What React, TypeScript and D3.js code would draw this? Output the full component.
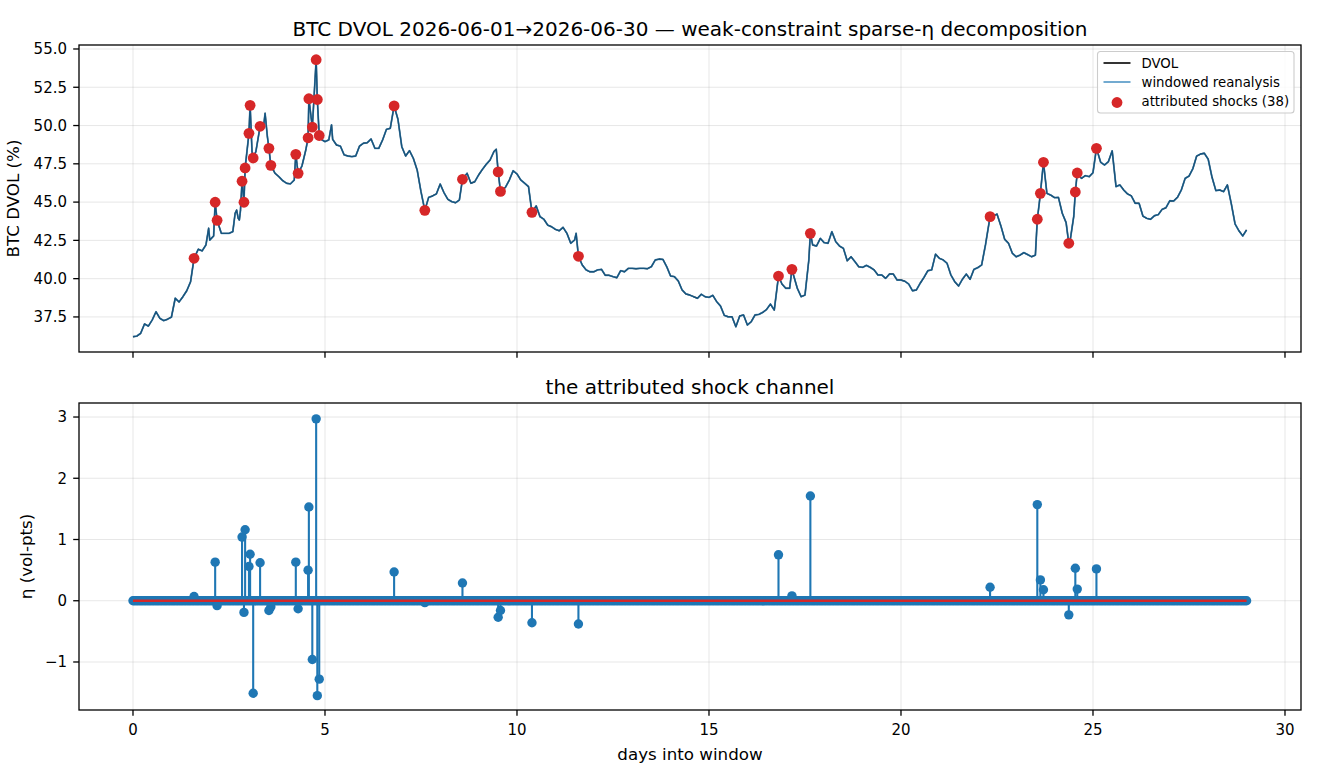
import React from "react";
import * as d3 from "d3";

// ---- data ----
const GRID_STEP = 0.1; // days between DVOL samples below
const dvolValues: number[] = [
  36.21, 36.25, 36.43, 37.04, 36.9, 37.3, 37.84, 37.41, 37.26, 37.35,
  37.48, 38.72, 38.48, 38.82, 39.21, 39.8, 41.5, 41.92, 41.81, 42.2,
  42.52, 42.79, 43.39, 42.96, 42.96, 42.96, 43.07, 44.37, 44.05, 46.0,
  48.4, 48.3, 48.3, 49.6, 49.9, 49.27, 47.3, 46.88, 46.66, 46.4,
  46.23, 46.19, 46.44, 46.9, 47.36, 48.4, 50.5, 51.2, 51.7, 49.1,
  48.95, 49.06, 49.1, 48.73, 48.66, 48.08, 48.01, 47.97, 48.01, 48.66,
  48.84, 48.88, 49.12, 48.51, 48.51, 49.06, 49.75, 49.82, 51.28, 50.41,
  48.62, 48.01, 48.36, 47.86, 47.1, 45.68, 44.46, 45.31, 45.4, 45.53,
  46.18, 45.61, 45.18, 45.03, 44.96, 45.14, 46.5, 46.88, 46.23, 46.33,
  46.77, 47.14, 47.47, 47.75, 48.3, 47.5, 45.75, 45.97, 46.44, 47.05,
  46.84, 46.44, 46.23, 46.01, 44.3, 44.75, 44.05, 43.88, 43.5, 43.39,
  43.22, 43.13, 43.35, 42.96, 42.31, 42.52, 41.46, 40.89, 40.57, 40.45,
  40.45, 40.57, 40.61, 40.22, 40.22, 40.13, 40.06, 40.52, 40.45, 40.67,
  40.67, 40.65, 40.67, 40.67, 40.65, 40.78, 41.22, 41.28, 41.26, 40.78,
  40.17, 40.13, 39.85, 39.26, 39.0, 38.93, 38.82, 38.72, 38.98, 38.82,
  38.78, 38.91, 38.5, 38.21, 37.6, 37.51, 37.51, 36.86, 37.56, 37.63,
  36.97, 37.19, 37.63, 37.67, 37.8, 37.99, 38.34, 37.95, 40.17, 39.65,
  39.37, 39.37, 40.24, 39.37, 38.82, 38.93, 41.22, 42.2, 42.13, 42.63,
  42.35, 42.31, 43.07, 42.42, 42.13, 41.98, 41.17, 41.43, 41.11, 40.78,
  40.74, 40.87, 40.74, 40.57, 40.24, 40.24, 40.02, 40.3, 40.3, 39.91,
  39.91, 39.83, 39.65, 39.21, 39.26, 39.7, 40.09, 40.52, 40.57, 41.6,
  41.33, 41.22, 41.0, 40.24, 39.8, 39.52, 39.96, 40.3, 39.96, 40.61,
  40.72, 40.89, 42.2, 43.39, 44.09, 44.22, 43.46, 42.57, 42.31, 41.66,
  41.43, 41.54, 41.7, 41.57, 41.43, 41.54, 44.9, 47.0, 45.57, 45.46,
  45.29, 45.31, 44.27, 43.66, 42.4, 44.09, 46.8, 46.55, 46.73, 46.66,
  46.92, 48.4, 47.6, 47.42, 47.64, 48.35, 46.01, 46.12, 45.79, 45.53,
  45.4, 44.92, 44.92, 44.09, 43.94, 43.88, 44.11, 44.18, 44.53, 44.63,
  45.09, 45.07, 45.31, 45.79, 46.55, 46.7, 47.18, 48.01, 48.14, 48.19,
  47.8, 46.62, 45.75, 45.79, 45.68, 46.12, 44.92, 43.57, 43.13, 42.79,
  43.18,
];

// extra DVOL vertices (short spikes between the 0.1-day samples)
const dvolExtraDays: number[] = [1.97, 2.66, 2.7, 2.74, 2.77, 2.8, 3.44, 5.17, 9.46, 11.54];
const dvolExtraValues: number[] = [43.29, 44.27, 44.48, 43.94, 43.83, 44.48, 50.8, 50.04, 48.45, 42.96];

const shockDays: number[] = [
  1.59, 2.14, 2.19, 2.84, 2.89, 2.92, 3.02, 3.05, 3.13, 3.31, 3.54, 3.59,
  4.24, 4.3, 4.56, 4.58, 4.67, 4.77, 4.8, 4.85, 6.8, 7.6, 8.58, 9.51, 9.57,
  10.39, 11.6, 16.81, 17.16, 17.64, 22.32, 23.55, 23.63, 23.71, 24.37, 24.54,
  24.59, 25.09,
];
const shockDvol: number[] = [
  41.33, 44.99, 43.81, 46.36, 44.99, 47.23, 49.49, 51.32, 47.88, 49.95, 48.51,
  47.4, 48.12, 46.88, 49.2, 51.75, 49.9, 54.3, 51.7, 49.35, 51.28, 44.46, 46.49,
  46.97, 45.7, 44.33, 41.46, 40.17, 40.61, 42.96, 44.05, 43.88, 45.57, 47.6,
  42.31, 45.66, 46.9, 48.51,
];
const shockEta: number[] = [
  0.07, 0.63, -0.08, 1.04, -0.19, 1.16, 0.56, 0.76, -1.51, 0.62, -0.16, -0.1,
  0.63, -0.13, 0.5, 1.53, -0.96, 2.97, -1.55, -1.28, 0.47, -0.03, 0.29, -0.27,
  -0.16, -0.36, -0.38, 0.75, 0.08, 1.71, 0.22, 1.57, 0.34, 0.18, -0.23, 0.53,
  0.19, 0.52,
];

const WINDOW_DAYS = 29;
const HOURS_PER_DAY = 24;
const dayTicks = [0, 5, 10, 15, 20, 25, 30];
const dvolTicks = [37.5, 40, 42.5, 45, 47.5, 50, 52.5, 55];
const etaTicks = [-1, 0, 1, 2, 3];

const TITLE = "BTC DVOL 2026-06-01\u21922026-06-30 \u2014 weak-constraint sparse-\u03b7 decomposition";
const SUBTITLE = "the attributed shock channel";

const FONT = "DejaVu Sans, sans-serif";
const C0 = "#1f77b4";
const C3 = "#d62728";

const TITLE_FS = 20;
const LABEL_FS = 16.7;
const TICK_FS = 15;
const LEGEND_FS = 13.3;
const TICK_LEN = 5.8;

export default function App() {
  const W = 1320;
  const H = 780;
  const L = 79;
  const R = 1301;
  const topT = 45;
  const topB = 352;
  const botT = 403;
  const botB = 710;

  const x = d3.scaleLinear().domain([-1.406, 30.417]).range([L, R]);
  const yTop = d3.scaleLinear().domain([35.21, 55.26]).range([topB, topT]);
  const yBot = d3.scaleLinear().domain([-1.784, 3.229]).range([botB, botT]);

  // merge DVOL samples with extra vertices and shock points so the line passes through them
  const fixedDays = shockDays.concat(dvolExtraDays);
  const pts: [number, number][] = [];
  dvolValues.forEach((v, i) => {
    const d = i * GRID_STEP;
    if (!fixedDays.some((s) => Math.abs(s - d) < 0.0205)) pts.push([d, v]);
  });
  shockDays.forEach((d, i) => pts.push([d, shockDvol[i]]));
  dvolExtraDays.forEach((d, i) => pts.push([d, dvolExtraValues[i]]));
  pts.sort((a, b) => a[0] - b[0]);

  const line = d3
    .line<[number, number]>()
    .x((d) => x(d[0]))
    .y((d) => yTop(d[1]));
  const pathD = line(pts) || "";

  const hours = d3.range(0, WINDOW_DAYS * HOURS_PER_DAY + 1).map((h) => h / HOURS_PER_DAY);

  const fmtEta = (v: number) => (v < 0 ? "\u2212" + Math.abs(v) : String(v));

  const grid = "#b0b0b0";
  const gridOp = 0.35;

  return (
    <div style={{ position: "absolute", left: 0, top: 0 }}>
      <svg width={W} height={H} style={{ display: "block", background: "#fff" }} fontFamily={FONT}>
        <rect x={0} y={0} width={W} height={H} fill="#fff" />

        {/* ---------- TOP PANEL ---------- */}
        <g>
          {dayTicks.map((t) => (
            <line key={"tg" + t} x1={x(t)} x2={x(t)} y1={topT} y2={topB} stroke={grid} strokeOpacity={gridOp} strokeWidth={0.9} />
          ))}
          {dvolTicks.map((t) => (
            <line key={"tgy" + t} x1={L} x2={R} y1={yTop(t)} y2={yTop(t)} stroke={grid} strokeOpacity={gridOp} strokeWidth={0.9} />
          ))}
          <path d={pathD} fill="none" stroke="#000" strokeWidth={1.4} strokeLinejoin="round" />
          <path d={pathD} fill="none" stroke={C0} strokeOpacity={0.7} strokeWidth={1.8} strokeLinejoin="round" />
          {shockDays.map((d, i) => (
            <circle key={"sd" + i} cx={x(d)} cy={yTop(shockDvol[i])} r={5.4} fill={C3} />
          ))}
          <rect x={L} y={topT} width={R - L} height={topB - topT} fill="none" stroke="#000" strokeWidth={1.3} />
          {dvolTicks.map((t) => (
            <g key={"ty" + t}>
              <line x1={L - TICK_LEN} x2={L} y1={yTop(t)} y2={yTop(t)} stroke="#000" strokeWidth={1.3} />
              <text x={L - 12} y={yTop(t)} dy="0.36em" textAnchor="end" fontSize={TICK_FS} fill="#000">
                {t.toFixed(1)}
              </text>
            </g>
          ))}
          {dayTicks.map((t) => (
            <line key={"tx" + t} x1={x(t)} x2={x(t)} y1={topB} y2={topB + TICK_LEN} stroke="#000" strokeWidth={1.3} />
          ))}
          <text x={(L + R) / 2} y={36} textAnchor="middle" fontSize={TITLE_FS} fill="#000">
            {TITLE}
          </text>
          <text
            transform={`translate(19, ${(topT + topB) / 2}) rotate(-90)`}
            textAnchor="middle"
            fontSize={LABEL_FS}
            fill="#000"
          >
            BTC DVOL (%)
          </text>

          {/* legend */}
          <g>
            <rect x={1097.5} y={51.5} width={196.5} height={61.5} rx={3} fill="#fff" fillOpacity={0.8} stroke="#cccccc" strokeWidth={1.1} />
            <line x1={1103.5} x2={1130.5} y1={63} y2={63} stroke="#000" strokeWidth={1.6} />
            <text x={1141.5} y={63} dy="0.36em" fontSize={LEGEND_FS} fill="#000">DVOL</text>
            <line x1={1103.5} x2={1130.5} y1={82} y2={82} stroke={C0} strokeOpacity={0.7} strokeWidth={1.8} />
            <text x={1141.5} y={82} dy="0.36em" fontSize={LEGEND_FS} fill="#000">windowed reanalysis</text>
            <circle cx={1117} cy={102.5} r={5.4} fill={C3} />
            <text x={1141.5} y={101.5} dy="0.36em" fontSize={LEGEND_FS} fill="#000">{`attributed shocks (${shockDays.length})`}</text>
          </g>
        </g>

        {/* ---------- BOTTOM PANEL ---------- */}
        <g>
          {dayTicks.map((t) => (
            <line key={"bg" + t} x1={x(t)} x2={x(t)} y1={botT} y2={botB} stroke={grid} strokeOpacity={gridOp} strokeWidth={0.9} />
          ))}
          {etaTicks.map((t) => (
            <line key={"bgy" + t} x1={L} x2={R} y1={yBot(t)} y2={yBot(t)} stroke={grid} strokeOpacity={gridOp} strokeWidth={0.9} />
          ))}
          {shockDays.map((d, i) => (
            <line key={"st" + i} x1={x(d)} x2={x(d)} y1={yBot(0)} y2={yBot(shockEta[i])} stroke={C0} strokeWidth={2.1} />
          ))}
          {hours.map((d, i) => (
            <circle key={"z" + i} cx={x(d)} cy={yBot(0)} r={4.7} fill={C0} />
          ))}
          {shockDays.map((d, i) => (
            <circle key={"sm" + i} cx={x(d)} cy={yBot(shockEta[i])} r={4.7} fill={C0} />
          ))}
          <line x1={x(0)} x2={x(WINDOW_DAYS)} y1={yBot(0)} y2={yBot(0)} stroke={C3} strokeWidth={2.6} />
          <rect x={L} y={botT} width={R - L} height={botB - botT} fill="none" stroke="#000" strokeWidth={1.3} />
          {etaTicks.map((t) => (
            <g key={"by" + t}>
              <line x1={L - TICK_LEN} x2={L} y1={yBot(t)} y2={yBot(t)} stroke="#000" strokeWidth={1.3} />
              <text x={L - 12} y={yBot(t)} dy="0.36em" textAnchor="end" fontSize={TICK_FS} fill="#000">
                {fmtEta(t)}
              </text>
            </g>
          ))}
          {dayTicks.map((t) => (
            <g key={"bx" + t}>
              <line x1={x(t)} x2={x(t)} y1={botB} y2={botB + TICK_LEN} stroke="#000" strokeWidth={1.3} />
              <text x={x(t)} y={734.5} textAnchor="middle" fontSize={TICK_FS} fill="#000">
                {t}
              </text>
            </g>
          ))}
          <text x={(L + R) / 2} y={394} textAnchor="middle" fontSize={TITLE_FS} fill="#000">
            {SUBTITLE}
          </text>
          <text x={(L + R) / 2} y={760} textAnchor="middle" fontSize={LABEL_FS} fill="#000">
            days into window
          </text>
          <text
            transform={`translate(32, ${(botT + botB) / 2}) rotate(-90)`}
            textAnchor="middle"
            fontSize={LABEL_FS}
            fill="#000"
          >
            {"\u03b7 (vol-pts)"}
          </text>
        </g>
      </svg>
    </div>
  );
}
